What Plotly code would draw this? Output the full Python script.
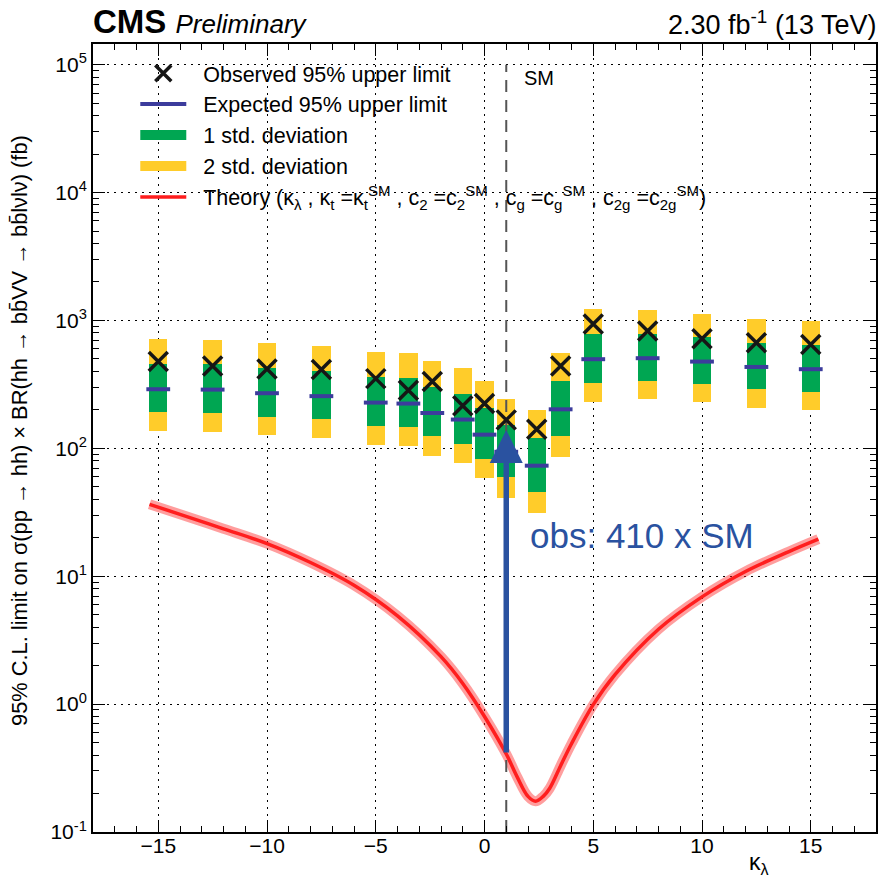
import numpy as np
import plotly.graph_objects as go

# ---------------- data ----------------
kl = [-15, -12.5, -10, -7.5, -5, -3.5, -2.4, -1, 0, 1, 2.4, 3.5, 5, 7.5, 10, 12.5, 15]
obs = [477, 441, 418, 413, 351, 285, 333, 215, 224, 167, 141, 441, 940, 829, 721, 671, 648]
exp_lim = [290, 288, 270, 256, 228, 224, 189, 168, 128, 94, 73.2, 202, 498, 507, 477, 433, 416]
m1 = [193, 189, 177, 170, 150, 148, 124, 108, 83, 59.4, 45.3, 125, 327, 339, 319, 290, 278]
p1 = [460, 455, 426, 403, 362, 356, 302, 268, 208, 152, 121, 337, 790, 790, 740, 668, 648]
m2 = [137, 135, 127, 121, 106, 105, 87.7, 76.4, 58.3, 41.1, 31.4, 85.2, 230, 244, 231, 207, 200]
p2 = [714, 705, 668, 633, 571, 561, 481, 426, 335, 244, 200, 555, 1233, 1211, 1132, 1024, 993]

theory_kl = [-15.4, -14, -12, -10, -8, -6, -4, -2, -1, 0, 1, 1.5, 2, 2.35, 2.7, 3, 3.5, 4,
             5, 6, 8, 10, 12, 14, 15.35]
theory_xs = [36.5, 30.5, 23.5, 18.0, 12.8, 8.5, 4.9, 2.35, 1.45, 0.80, 0.407, 0.27, 0.19,
             0.174, 0.19, 0.22, 0.33, 0.49, 0.99, 1.7, 3.85, 6.9, 10.9, 15.6, 19.5]

SM_KL = 1
SM_OBS = obs[kl.index(SM_KL)]
SM_THEORY = theory_xs[theory_kl.index(SM_KL)]
OBS_TEXT = "obs: 410 x SM"

X_RANGE = [-18, 18]
Y_RANGE_LOG = [-1, 5.162]
Y_TICK_EXP = [-1, 0, 1, 2, 3, 4, 5]
Y_TICK_TEXT = ["10<sup>-1</sup>", "10<sup>0</sup>", "10<sup>1</sup>", "10<sup>2</sup>",
               "10<sup>3</sup>", "10<sup>4</sup>", "10<sup>5</sup>"]
X_TICKS = [-15, -10, -5, 0, 5, 10, 15]

YELLOW = "#FFCC2A"
GREEN = "#00A652"
EXP_BLUE = "#3C3C9C"
ARROW_BLUE = "#2A52A0"
RED = "#FF1E1E"

FONT = "Liberation Sans, Arial, sans-serif"

BOX_W = 0.84
SP = "\u00a0\u00a0"

fig = go.Figure()

# 2 sigma boxes
fig.add_trace(go.Bar(
    x=kl, base=m2, y=[b - a for a, b in zip(m2, p2)], width=BOX_W,
    marker=dict(color=YELLOW, line=dict(width=0)), showlegend=False, hoverinfo="skip"))
# 1 sigma boxes
fig.add_trace(go.Bar(
    x=kl, base=m1, y=[b - a for a, b in zip(m1, p1)], width=BOX_W,
    marker=dict(color=GREEN, line=dict(width=0)), showlegend=False, hoverinfo="skip"))

# expected
fig.add_trace(go.Scatter(
    x=kl, y=exp_lim, mode="markers",
    marker=dict(symbol="line-ew", size=17, line=dict(width=4, color=EXP_BLUE)),
    showlegend=False))

# theory band + line
fig.add_trace(go.Scatter(
    x=theory_kl, y=theory_xs, mode="lines",
    line=dict(color="rgba(255,40,40,0.45)", width=10, shape="spline"),
    showlegend=False, hoverinfo="skip"))
fig.add_trace(go.Scatter(
    x=theory_kl, y=theory_xs, mode="lines",
    line=dict(color=RED, width=3.5, shape="spline"),
    name=SP + "Theory (κ<sub>λ</sub> , κ<sub>t</sub> =κ<sub>t</sub><sup>SM</sup> , c<sub>2</sub> =c<sub>2</sub><sup>SM</sup> , "
         "c<sub>g</sub> =c<sub>g</sub><sup>SM</sup> , c<sub>2g</sub> =c<sub>2g</sub><sup>SM</sup>)",
    legendrank=5, legendgroup="g5", showlegend=True))

# SM dashed line
fig.add_trace(go.Scatter(
    x=[SM_KL, SM_KL], y=[10 ** Y_RANGE_LOG[0], 10 ** Y_TICK_EXP[-1]], mode="lines",
    line=dict(color="#555555", width=2, dash="12px,8px"), showlegend=False, hoverinfo="skip"))

# observed
fig.add_trace(go.Scatter(
    x=kl, y=obs, mode="markers",
    marker=dict(symbol="x-thin", size=19, line=dict(width=3.5, color="#161616")),
    name=SP + "Observed 95% upper limit", legendrank=1, legendgroup="g1"))

# legend-only entries
fig.add_trace(go.Scatter(x=[None], y=[None], mode="lines",
                         line=dict(color=EXP_BLUE, width=4),
                         name=SP + "Expected 95% upper limit", legendrank=2, legendgroup="g2"))
fig.add_trace(go.Scatter(x=[None], y=[None], mode="lines",
                         line=dict(color=GREEN, width=18),
                         name=SP + "1 std. deviation", legendrank=3, legendgroup="g3"))
fig.add_trace(go.Scatter(x=[None], y=[None], mode="lines",
                         line=dict(color=YELLOW, width=18),
                         name=SP + "2 std. deviation", legendrank=4, legendgroup="g4"))

# arrow from theory at SM up to observed limit
fig.add_annotation(
    x=SM_KL, y=np.log10(SM_OBS), ax=SM_KL, ay=np.log10(SM_THEORY),
    xref="x", yref="y", axref="x", ayref="y", text="", showarrow=True,
    arrowhead=2, arrowsize=1.2, arrowwidth=5.5, arrowcolor=ARROW_BLUE, standoff=10)
fig.add_annotation(
    x=SM_KL, y=np.log10(SM_OBS), xref="x", yref="y", text=OBS_TEXT, showarrow=False,
    xanchor="left", yanchor="middle", xshift=22, yshift=-116,
    font=dict(family=FONT, size=35, color=ARROW_BLUE))

# SM label
fig.add_annotation(x=SM_KL, y=Y_RANGE_LOG[1], xref="x", yref="y", text="SM",
                   showarrow=False, xanchor="left", yanchor="top", xshift=16, yshift=-21,
                   font=dict(family=FONT, size=20, color="black"))

# header texts
fig.add_annotation(x=0, y=1, xref="paper", yref="paper",
                   text="<b>CMS</b> <i><span style='font-size:26px'>Preliminary</span></i>",
                   showarrow=False, xanchor="left", yanchor="bottom", xshift=-2, yshift=2,
                   font=dict(family=FONT, size=33, color="black"))
fig.add_annotation(x=1, y=1, xref="paper", yref="paper",
                   text="2.30 fb<sup>-1</sup> (13 TeV)",
                   showarrow=False, xanchor="right", yanchor="bottom", xshift=2, yshift=2,
                   font=dict(family=FONT, size=27, color="black"))

# axis titles
fig.add_annotation(x=0.85, y=0, xref="paper", yref="paper", text="κ<sub>λ</sub>",
                   showarrow=False, xanchor="center", yanchor="bottom", yshift=-48,
                   font=dict(family=FONT, size=23, color="black"))
fig.add_annotation(x=0, y=0.509, xref="paper", yref="paper",
                   text="95% C.L. limit on σ(pp → hh) × BR(hh → bb̄VV → bb̄lνlν) (fb)",
                   textangle=-90, showarrow=False, xanchor="center", yanchor="middle",
                   xshift=-73, font=dict(family=FONT, size=21.8, color="black"))

axis_common = dict(
    showline=True, linecolor="black", linewidth=2, mirror="allticks",
    ticks="inside", tickcolor="black", tickwidth=1,
    showgrid=True, gridcolor="black", gridwidth=1, griddash="2px,5px",
    zeroline=False,
)

fig.update_xaxes(
    range=X_RANGE, tickmode="array", tickvals=X_TICKS, ticklen=12,
    ticklabelstandoff=-6,
    minor=dict(ticks="inside", dtick=1, tick0=0, ticklen=6, tickcolor="black", showgrid=False),
    tickfont=dict(family=FONT, size=21, color="black"),
    **axis_common)

y_minor = [m * 10.0 ** e for e in Y_TICK_EXP[:-1] for m in range(2, 10)]
fig.update_yaxes(
    type="log", range=Y_RANGE_LOG, tickmode="array",
    tickvals=[10.0 ** e for e in Y_TICK_EXP], ticktext=Y_TICK_TEXT, ticklen=12,
    minor=dict(ticks="inside", tickmode="array", tickvals=y_minor, ticklen=6,
               tickcolor="black", showgrid=False),
    tickfont=dict(family=FONT, size=21, color="black"),
    **axis_common)

fig.update_layout(
    width=879, height=881,
    margin=dict(l=93, r=1, t=44, b=49, pad=0),
    paper_bgcolor="white", plot_bgcolor="white",
    barmode="overlay", bargap=0,
    font=dict(family=FONT, color="black"),
    legend=dict(x=0.054, y=0.989, xanchor="left", yanchor="top",
                bgcolor="rgba(0,0,0,0)", borderwidth=0,
                font=dict(family=FONT, size=21.5, color="black"),
                itemwidth=46, tracegroupgap=3, traceorder="normal"),
)

fig.write_html("out.html")
